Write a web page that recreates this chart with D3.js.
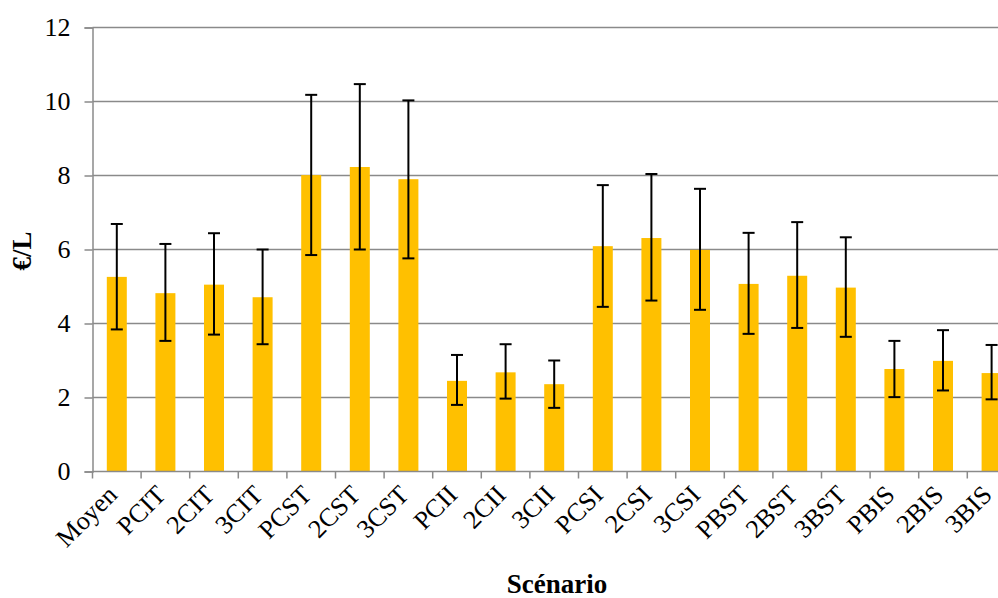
<!DOCTYPE html>
<html><head><meta charset="utf-8">
<script src="https://cdn.jsdelivr.net/npm/d3@7"></script>
<style>html,body{margin:0;padding:0;background:#fff;overflow:hidden}svg{display:block}text{font-family:'Liberation Serif','Times New Roman',serif}</style>
</head><body><svg id="c" width="998" height="598"></svg>
<script>
const categories = ["Moyen","PCIT","2CIT","3CIT","PCST","2CST","3CST","PCII","2CII","3CII","PCSI","2CSI","3CSI","PBST","2BST","3BST","PBIS","2BIS","3BIS"];
const values = [5.26,4.82,5.05,4.71,8.01,8.23,7.90,2.45,2.68,2.36,6.09,6.31,5.99,5.07,5.29,4.97,2.77,2.99,2.66];
const errHigh = [6.69,6.15,6.44,6.00,10.18,10.47,10.03,3.15,3.44,3.00,7.74,8.04,7.64,6.45,6.74,6.33,3.53,3.82,3.42];
const errLow = [3.84,3.53,3.70,3.44,5.85,6.00,5.76,1.80,1.97,1.72,4.45,4.62,4.37,3.72,3.88,3.64,2.01,2.19,1.95];
const yTicks = [0,2,4,6,8,10,12];

(function(){
const svg = d3.select("#c");
const pLeft = 92.5, pTop = 27.5, pBottom = 471.5, step = 48.6;
const pRight = pLeft + step * categories.length;
const x = d3.scaleBand().domain(categories).range([pLeft, pRight]).padding(0);
const y = d3.scaleLinear().domain([0, 12]).range([pBottom, pTop]);
const font = "'Liberation Serif','Times New Roman',serif";
const grey = "#8a8a8a";

svg.append("g").selectAll("line").data(yTicks.filter(d => d > 0)).join("line")
  .attr("x1", pLeft).attr("x2", pRight).attr("y1", d => y(d)).attr("y2", d => y(d))
  .attr("stroke", grey).attr("stroke-width", 1.5);

const ya = svg.append("g").attr("transform", `translate(${pLeft},0)`)
  .call(d3.axisLeft(y).tickValues(yTicks).tickSize(8).tickPadding(14).tickFormat(d3.format("d")));
ya.attr("font-family", null).attr("font-size", null);
ya.select(".domain").attr("stroke", grey).attr("stroke-width", 1.5);
ya.selectAll(".tick line").attr("stroke", grey).attr("stroke-width", 1.5);
ya.selectAll(".tick text").style("font-family", font).style("font-size", "26px").attr("fill", "#000");

const bw = 20;
svg.append("g").selectAll("rect").data(categories).join("rect")
  .attr("x", (d) => x(d) + x.bandwidth()/2 - bw/2)
  .attr("width", bw)
  .attr("y", (d, i) => y(values[i]))
  .attr("height", (d, i) => y(0) - y(values[i]))
  .attr("fill", "#FFC000");

const eg = svg.append("g").attr("stroke", "#000").attr("stroke-width", 2);
categories.forEach((c, i) => {
  const cx = x(c) + x.bandwidth()/2;
  eg.append("line").attr("x1", cx).attr("x2", cx).attr("y1", y(errLow[i])).attr("y2", y(errHigh[i]));
  eg.append("line").attr("x1", cx-6).attr("x2", cx+6).attr("y1", y(errLow[i])).attr("y2", y(errLow[i]));
  eg.append("line").attr("x1", cx-6).attr("x2", cx+6).attr("y1", y(errHigh[i])).attr("y2", y(errHigh[i]));
});

const xTickPos = d3.range(categories.length + 1).map(i => pLeft + i * step);
const xa = svg.append("g");
xa.append("line").attr("x1", pLeft).attr("x2", pRight).attr("y1", pBottom).attr("y2", pBottom)
  .attr("stroke", grey).attr("stroke-width", 1.5);
xa.selectAll("line.t").data(xTickPos).join("line").attr("class","t")
  .attr("x1", d => d).attr("x2", d => d).attr("y1", pBottom).attr("y2", pBottom + 7)
  .attr("stroke", grey).attr("stroke-width", 1.5);
xa.selectAll("text").data(categories).join("text")
  .attr("transform", d => `translate(${x(d) + x.bandwidth()/2 - 11},${pBottom + 12}) rotate(-45)`)
  .attr("text-anchor", "end").attr("dy", "0.7em")
  .style("font-family", font).style("font-size", "26px").attr("fill", "#000")
  .text(d => d);

svg.append("text").attr("x", 557).attr("y", 593).attr("text-anchor", "middle")
  .style("font-family", font).style("font-size", "27px").attr("font-weight", "bold").text("Scénario");
svg.append("text").attr("transform", "translate(31,251) rotate(-90)").attr("text-anchor", "middle")
  .style("font-family", font).style("font-size", "27px").attr("font-weight", "bold").text("€/L");
})();
</script></body></html>
